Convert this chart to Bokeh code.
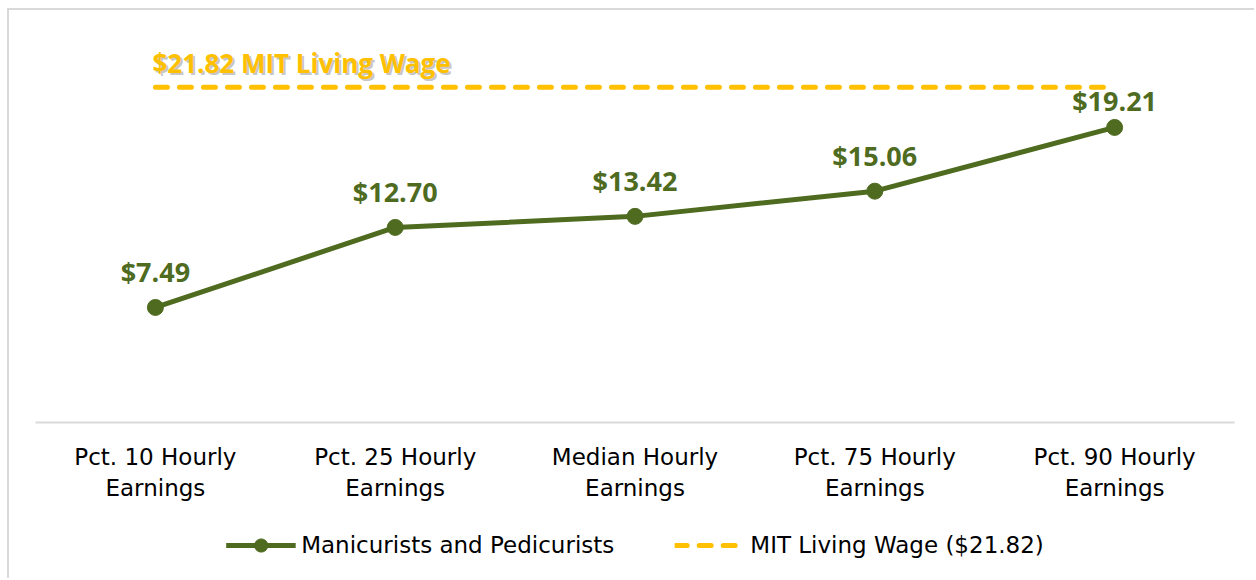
from bokeh.plotting import figure
from bokeh.layouts import column
from bokeh.models import FactorRange, Range1d, Legend, LegendItem
from bokeh.core.properties import value
from bokeh.embed import file_html
from bokeh.resources import INLINE

categories = [
    "Pct. 10 Hourly\nEarnings",
    "Pct. 25 Hourly\nEarnings",
    "Median Hourly\nEarnings",
    "Pct. 75 Hourly\nEarnings",
    "Pct. 90 Hourly\nEarnings",
]
wages = [7.49, 12.70, 13.42, 15.06, 19.21]
wage_labels = ["$7.49", "$12.70", "$13.42", "$15.06", "$19.21"]
living_wage = 21.82
living_label = "$21.82 MIT Living Wage"
series_name = "Manicurists and Pedicurists"
living_name = "MIT Living Wage ($21.82)"

GREEN = "#4E6B1F"
GOLD = "#FFC000"
FONT = "Open Sans"
TICK_FONT = "DejaVu Sans"
BORDER = "2px solid #D9D9D9"

p = figure(
    width=1247, height=515,
    x_range=FactorRange(*categories), y_range=Range1d(0, 25),
    output_backend="svg", toolbar_location=None,
    min_border_left=26, min_border_right=22, min_border_top=28, min_border_bottom=103,
)
p.styles = {"margin-left": "7px", "margin-top": "8px",
            "border-left": BORDER, "border-top": BORDER}
p.outline_line_color = None
p.xgrid.visible = False
p.ygrid.visible = False
p.yaxis.visible = False

ax = p.xaxis[0]
ax.axis_line_color = "#D9D9D9"
ax.axis_line_width = 2
ax.major_tick_line_color = None
ax.minor_tick_line_color = None
ax.major_label_text_font = TICK_FONT
ax.major_label_text_font_size = "23px"
ax.major_label_text_color = "#000000"
ax.major_label_standoff = 15

# living wage line
lw_x = [categories[0], categories[-1]]
lw_y = [living_wage, living_wage]
line_style_gold = dict(line_color=GOLD, line_width=5, line_dash="12 12", line_cap="round")
p.line(lw_x, lw_y, **line_style_gold)

# label for living wage with shadow
p.text(x=[categories[0]], y=[living_wage], text=[living_label],
       text_font=value(FONT), text_font_size="26px", text_font_style="bold",
       text_color="#7F7F7F", text_alpha=0.45, text_align="left", text_baseline="middle",
       x_offset=-3 + 2, y_offset=-24 + 2)
p.text(x=[categories[0]], y=[living_wage], text=[living_label],
       text_font=value(FONT), text_font_size="26px", text_font_style="bold",
       text_color=GOLD, text_align="left", text_baseline="middle",
       x_offset=-3, y_offset=-24)

line_style_green = dict(line_color=GREEN, line_width=5)
marker_style_green = dict(size=16, fill_color=GREEN, line_color=GREEN)
p.line(categories, wages, **line_style_green)
p.scatter(categories, wages, **marker_style_green)

label_offsets = [-36] * (len(wages) - 1) + [-27]
p.text(x=categories, y=wages, text=wage_labels,
       text_font=value(FONT), text_font_size="27px", text_font_style="bold",
       text_color=GREEN, text_align="center", text_baseline="middle", y_offset=label_offsets)

# legend strip: a separate figure whose series lie outside its view,
# so only the legend itself is seen (and it is not clipped)
lg = figure(
    width=1247, height=55,
    x_range=FactorRange(*categories), y_range=Range1d(100, 101),
    output_backend="svg", toolbar_location=None,
    x_axis_type=None, y_axis_type=None,
    min_border_left=16, min_border_right=0, min_border_top=0, min_border_bottom=12,
)
lg.styles = {"margin-left": "7px", "border-left": BORDER}
lg.outline_line_color = None
lg.xgrid.visible = False
lg.ygrid.visible = False
lg_green_line = lg.line(categories, wages, **line_style_green)
lg_green_pt = lg.scatter(categories, wages, **marker_style_green)
lg_gold = lg.line(lw_x, lw_y, **line_style_gold)

legend = Legend(
    items=[LegendItem(label=series_name, renderers=[lg_green_line, lg_green_pt]),
           LegendItem(label=living_name, renderers=[lg_gold])],
    orientation="horizontal", location="center",
    border_line_color=None, background_fill_alpha=0,
    label_text_font=TICK_FONT, label_text_font_size="23px", label_text_color="#000000",
    glyph_width=70, glyph_height=33, spacing=60, padding=0, margin=0, label_standoff=6,
)
lg.add_layout(legend)

layout = column(p, lg, spacing=0)
open("out.html", "w").write(file_html(layout, INLINE))
